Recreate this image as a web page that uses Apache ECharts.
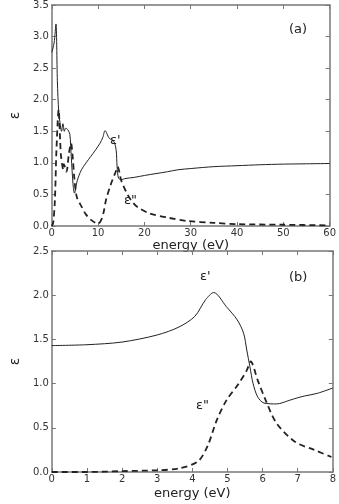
<!DOCTYPE html>
<html>
<head>
    <meta charset="UTF-8"/>
    <title>epsilon</title>
    <script src="https://cdn.jsdelivr.net/npm/echarts@6/dist/echarts.min.js"></script>
    <style>
        html, body { margin: 0; padding: 0; background: #fff; }
        #main { width: 339px; height: 504px; }
    </style>
</head>
<body>
<div id="main"></div>
<script>
    // panel (a): wide energy range
    var energyA = [0, 0.5, 0.9, 1.2, 1.5, 1.8, 2.1, 2.4, 2.7, 3.0, 3.5, 3.9, 4.2, 4.6, 4.9, 5.5, 6.4, 7.4, 8.4, 9.4, 10.4, 11.0, 11.5, 12.4, 13.4, 13.9, 14.1, 14.4, 15.0, 15.7, 17.8, 20, 22.5, 25, 27.2, 30, 35, 40, 45, 50, 55, 60];
    var epsRealA = [2.75, 2.9, 3.2, 2.3, 1.8, 1.62, 1.5, 1.62, 1.5, 1.55, 1.52, 1.45, 1.1, 0.65, 0.52, 0.72, 0.89, 1.0, 1.1, 1.2, 1.31, 1.4, 1.51, 1.39, 1.34, 1.2, 0.94, 0.76, 0.73, 0.75, 0.77, 0.8, 0.83, 0.86, 0.89, 0.91, 0.94, 0.955, 0.97, 0.98, 0.985, 0.99];
    var energyA2 = [0, 0.3, 0.67, 1.0, 1.48, 1.8, 2.0, 2.5, 2.6, 3.15, 3.7, 4.15, 4.5, 4.9, 5.4, 6.4, 7.4, 8.4, 9.4, 10.1, 10.7, 11.2, 11.7, 12.7, 13.8, 14.2, 15, 16, 17.1, 18.5, 21.1, 25.2, 29.2, 35, 40, 50, 60];
    var epsImagA = [0, 0.05, 0.41, 1.2, 1.84, 1.36, 1.1, 0.89, 0.98, 0.86, 1.15, 1.31, 1.1, 0.73, 0.46, 0.31, 0.18, 0.1, 0.05, 0.04, 0.1, 0.22, 0.41, 0.65, 0.86, 0.94, 0.72, 0.55, 0.41, 0.3, 0.2, 0.13, 0.08, 0.05, 0.03, 0.02, 0.01];

    // panel (b): low energy range
    var energyB = [0, 1, 2, 3, 3.62, 4.07, 4.38, 4.61, 4.97, 5.28, 5.46, 5.55, 5.64, 5.73, 5.86, 6.04, 6.4, 6.76, 7.0, 7.2, 7.56, 8];
    var epsRealB = [1.43, 1.44, 1.47, 1.55, 1.64, 1.76, 1.95, 2.03, 1.87, 1.72, 1.57, 1.38, 1.19, 1.0, 0.85, 0.78, 0.77, 0.81, 0.84, 0.86, 0.89, 0.95];
    var energyB2 = [0, 1, 2, 3, 3.62, 4.16, 4.43, 4.7, 4.97, 5.32, 5.55, 5.66, 5.86, 6.09, 6.4, 6.93, 7.47, 7.96];
    var epsImagB = [0, 0.0, 0.01, 0.02, 0.04, 0.12, 0.29, 0.59, 0.81, 1.0, 1.15, 1.25, 1.04, 0.81, 0.55, 0.34, 0.25, 0.17];

    function pairs(xs, ys) {
        var out = [];
        for (var i = 0; i < xs.length; i++) out.push([xs[i], ys[i]]);
        return out;
    }

    var font = 'DejaVu Sans';
    var lineCol = '#777';
    var txtCol = '#333';

    function xAx(grid, max, step, top) {
        return {
            type: 'value', gridIndex: grid, min: 0, max: max, interval: step,
            position: top ? 'top' : 'bottom',
            name: top ? '' : 'energy (eV)', nameLocation: 'middle', nameGap: grid === 0 ? 13 : 15,
            nameTextStyle: { fontFamily: font, fontSize: 13, color: '#222' },
            axisLine: { show: true, onZero: false, lineStyle: { color: lineCol, width: 1.5 } },
            axisTick: { show: true, inside: true, length: 4, lineStyle: { color: lineCol } },
            axisLabel: { show: !top, margin: 2, fontFamily: font, fontSize: 10, color: txtCol },
            splitLine: { show: false }
        };
    }
    function yAx(grid, max, right) {
        return {
            type: 'value', gridIndex: grid, min: 0, max: max, interval: 0.5,
            position: right ? 'right' : 'left',
            name: right ? '' : 'ε', nameLocation: 'middle', nameGap: 22, nameRotate: 90,
            nameTextStyle: { fontFamily: font, fontSize: 14, color: '#222' },
            axisLine: { show: true, onZero: false, lineStyle: { color: lineCol, width: 1.5 } },
            axisTick: { show: true, inside: true, length: 4, lineStyle: { color: lineCol } },
            axisLabel: { show: !right, margin: 3, fontFamily: font, fontSize: 10, color: txtCol,
                formatter: function (v) { return v.toFixed(1); } },
            splitLine: { show: false }
        };
    }

    function curve(xi, yi, data, dashed) {
        return {
            type: 'line', xAxisIndex: xi, yAxisIndex: yi, data: data,
            showSymbol: false, smooth: 0.3, animation: false,
            lineStyle: dashed
                ? { color: '#222', width: 1.8, type: [6, 4] }
                : { color: '#222', width: 1 }
        };
    }

    function label(text, x, y) {
        return { type: 'text', left: x, top: y,
            style: { text: text, fontFamily: font, fontSize: 13, fill: '#222' } };
    }

    var chart = echarts.init(document.getElementById('main'), null, { renderer: 'canvas' });
    chart.setOption({
        backgroundColor: '#fff',
        animation: false,
        grid: [
            { left: 35, top: 5, width: 298, height: 221 },
            { left: 35, top: 251, width: 298, height: 221 }
        ],
        xAxis: [xAx(0, 60, 10, false), xAx(1, 8, 1, false), xAx(0, 60, 10, true), xAx(1, 8, 1, true)],
        yAxis: [yAx(0, 3.5, false), yAx(1, 2.5, false), yAx(0, 3.5, true), yAx(1, 2.5, true)],
        series: [
            curve(0, 0, pairs(energyA, epsRealA), false),
            curve(0, 0, pairs(energyA2, epsImagA), true),
            curve(1, 1, pairs(energyB, epsRealB), false),
            curve(1, 1, pairs(energyB2, epsImagB), true)
        ],
        graphic: [
            label('(a)', 289, 23),
            label("ε'", 110, 134),
            label('ε"', 124, 194),
            label('(b)', 289, 271),
            label("ε'", 200, 270),
            label('ε"', 196, 399)
        ]
    });
</script>
</body>
</html>
